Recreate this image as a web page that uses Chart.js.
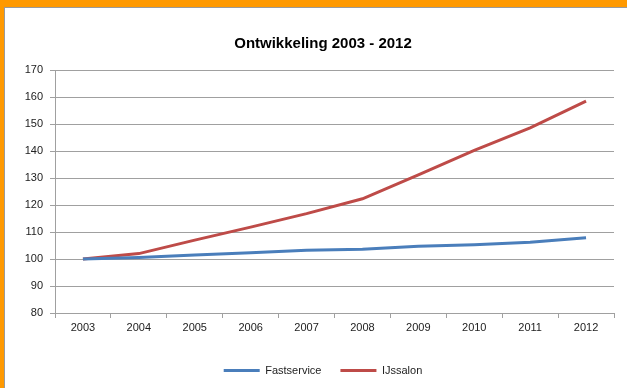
<!DOCTYPE html>
<html>
<head>
<meta charset="utf-8">
<script src="https://cdn.jsdelivr.net/npm/chart.js@4.4.1/dist/chart.umd.min.js"></script>
<style>
  body { margin: 0; background: #fff; }
  #frame { position: absolute; left: 0; top: 0; width: 627px; height: 388px; box-sizing: border-box;
           border-top: 7px solid #FF9900; border-left: 4px solid #FF9900; }
  #inner { position: absolute; left: 4px; top: 7px; right: 0; bottom: 0;
           border-top: 1px solid #9a9a9a; border-left: 1px solid #9a9a9a; }
  #chart { position: absolute; left: 5px; top: 8px; }
</style>
</head>
<body>
<div id="frame"></div>
<div id="inner"></div>
<canvas id="chart" width="622" height="380"></canvas>
<script>
// jaren en indexcijfers (2003 = 100)
var jaren = ['2003', '2004', '2005', '2006', '2007', '2008', '2009', '2010', '2011', '2012'];
var fastservice = [100, 100.6, 101.5, 102.3, 103.2, 103.6, 104.7, 105.3, 106.2, 107.9];
var ijssalon = [100, 102, 107, 111.8, 116.8, 122.3, 131.2, 140.2, 148.6, 158.5];

var ctx = document.getElementById('chart').getContext('2d');
var chart = new Chart(ctx, {
    type: 'line',
    data: {
        labels: jaren,
        datasets: [{
            label: 'Fastservice',
            data: fastservice,
            borderColor: '#4A7EBB',
            backgroundColor: '#4A7EBB',
            borderWidth: 3,
            pointRadius: 0,
            tension: 0
        }, {
            label: 'IJssalon',
            data: ijssalon,
            borderColor: '#BE4B48',
            backgroundColor: '#BE4B48',
            borderWidth: 3,
            pointRadius: 0,
            tension: 0
        }]
    },
    options: {
        responsive: false,
        animation: false,
        layout: { padding: { left: 14, right: 0, top: 0, bottom: 2 } },
        plugins: {
            title: {
                display: true,
                text: 'Ontwikkeling 2003 - 2012',
                color: '#000',
                font: { family: 'Liberation Sans', size: 15, weight: 'bold' },
                padding: { top: 27, bottom: 17 }
            },
            legend: {
                position: 'bottom',
                labels: {
                    usePointStyle: true,
                    pointStyle: 'line',
                    pointStyleWidth: 36,
                    padding: 19,
                    color: '#222',
                    font: { family: 'Liberation Sans', size: 11 }
                }
            },
            tooltip: { enabled: false }
        },
        scales: {
            x: {
                offset: true,
                grid: { drawOnChartArea: false, drawTicks: true, tickLength: 5, offset: true, color: '#a0a0a0' },
                border: { color: '#a0a0a0' },
                ticks: { color: '#222', padding: 3, font: { family: 'Liberation Sans', size: 11 } },
                afterFit: function (s) { s.height = 33; }
            },
            y: {
                min: 80,
                max: 170,
                grid: { color: '#a0a0a0', tickLength: 5 },
                border: { color: '#a0a0a0' },
                ticks: { stepSize: 10, color: '#222', padding: 7, font: { family: 'Liberation Sans', size: 11 } },
                afterFit: function (s) { s.width = 36; }
            },
            // lege as rechts, alleen als marge
            yRechts: {
                position: 'right',
                min: 80,
                max: 170,
                grid: { display: false },
                border: { display: false },
                ticks: { display: false },
                afterFit: function (s) { s.width = 13; }
            }
        }
    }
});
</script>
</body>
</html>
